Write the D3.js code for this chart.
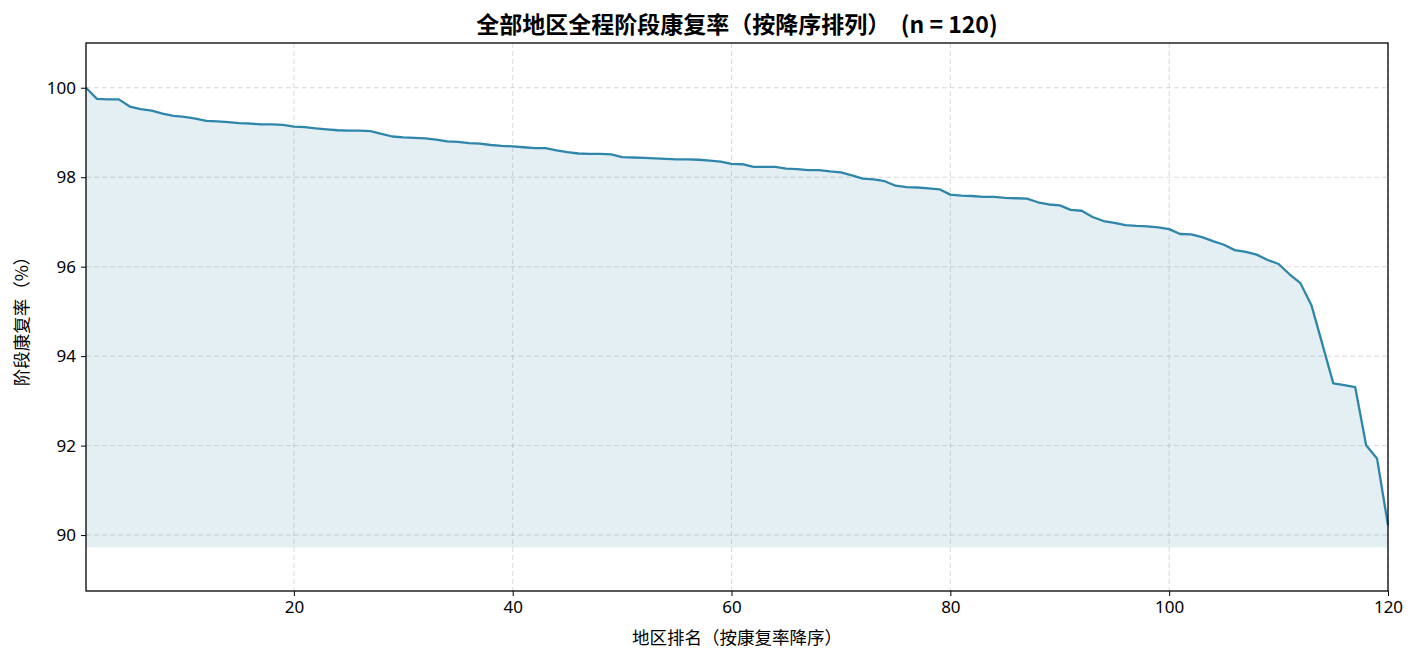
<!DOCTYPE html>
<html>
<head>
<meta charset="utf-8">
<script src="https://cdn.jsdelivr.net/npm/d3@7"></script>
<style>
  body { margin: 0; background: #fff; }
  #chart { width: 1417px; height: 663px; }
  text { font-family: "Noto Sans CJK SC", "Noto Sans", sans-serif; }
</style>
</head>
<body>
<div id="chart"></div>
<script>
////////////////////////////  Data  ////////////////////////////
const titleText = "全部地区全程阶段康复率（按降序排列）  (n = 120)";
const xLabel = "地区排名（按康复率降序）";
const yLabel = "阶段康复率（%）";

// recovery rate per region, sorted descending (rank 1..120)
const rates = [
  100.00, 99.75, 99.74, 99.74, 99.58, 99.52, 99.49, 99.42, 99.37, 99.35,
  99.31, 99.26, 99.25, 99.23, 99.21, 99.20, 99.18, 99.18, 99.17, 99.13,
  99.12, 99.09, 99.07, 99.05, 99.04, 99.04, 99.03, 98.97, 98.91, 98.89,
  98.88, 98.87, 98.84, 98.80, 98.79, 98.76, 98.75, 98.72, 98.70, 98.69,
  98.67, 98.65, 98.65, 98.60, 98.56, 98.53, 98.52, 98.52, 98.51, 98.45,
  98.44, 98.43, 98.42, 98.41, 98.40, 98.40, 98.39, 98.37, 98.35, 98.30,
  98.29, 98.23, 98.23, 98.23, 98.19, 98.18, 98.16, 98.16, 98.13, 98.11,
  98.04, 97.97, 97.95, 97.91, 97.81, 97.78, 97.77, 97.75, 97.73, 97.61,
  97.59, 97.58, 97.56, 97.56, 97.54, 97.53, 97.52, 97.44, 97.39, 97.37,
  97.27, 97.25, 97.11, 97.02, 96.98, 96.93, 96.91, 96.90, 96.88, 96.84,
  96.73, 96.72, 96.66, 96.57, 96.49, 96.37, 96.33, 96.27, 96.15, 96.06,
  95.83, 95.63, 95.14, 94.27, 93.39, 93.35, 93.31, 92.01, 91.71, 90.22
];
const xTicks = [20, 40, 60, 80, 100, 120];
const yTicks = [90, 92, 94, 96, 98, 100];

const data = rates.map((v, i) => ({ rank: i + 1, rate: v }));

////////////////////////////  Init  ////////////////////////////
const width = 1417;
const height = 663;
const margin = { top: 43, right: 29, bottom: 72, left: 86 };
const lineColor = "#2e86ab";

const svg = d3.select("#chart").append("svg")
  .attr("width", width)
  .attr("height", height);

const xScale = d3.scaleLinear()
  .domain([1, rates.length])
  .range([margin.left, width - margin.right]);

const yMin = d3.min(rates) - 0.5;
const yScale = d3.scaleLinear()
  .domain([88.75, 101.0])
  .range([height - margin.bottom, margin.top]);

// grid
svg.append("g")
  .selectAll("line")
  .data(yTicks)
  .join("line")
  .attr("x1", margin.left)
  .attr("x2", width - margin.right)
  .attr("y1", (d) => yScale(d))
  .attr("y2", (d) => yScale(d))
  .attr("stroke", "#b0b0b0")
  .attr("stroke-opacity", 0.5)
  .attr("stroke-dasharray", "5,3")
  .attr("stroke-width", 0.9);

svg.append("g")
  .selectAll("line")
  .data(xTicks)
  .join("line")
  .attr("x1", (d) => xScale(d))
  .attr("x2", (d) => xScale(d))
  .attr("y1", margin.top)
  .attr("y2", height - margin.bottom)
  .attr("stroke", "#b0b0b0")
  .attr("stroke-opacity", 0.5)
  .attr("stroke-dasharray", "5,3")
  .attr("stroke-width", 0.9);

// area + line
const area = d3.area()
  .x((d) => xScale(d.rank))
  .y0(yScale(yMin))
  .y1((d) => yScale(d.rate));

const line = d3.line()
  .x((d) => xScale(d.rank))
  .y((d) => yScale(d.rate));

svg.append("path")
  .datum(data)
  .attr("d", area)
  .attr("fill", lineColor)
  .attr("fill-opacity", 0.13);

svg.append("path")
  .datum(data)
  .attr("d", line)
  .attr("fill", "none")
  .attr("stroke", lineColor)
  .attr("stroke-width", 2.3)
  .attr("stroke-linejoin", "round");

// axes
const xAxis = d3.axisBottom(xScale).tickValues(xTicks).tickSize(5).tickPadding(5);
const yAxis = d3.axisLeft(yScale).tickValues(yTicks).tickSize(5).tickPadding(5);

const gx = svg.append("g")
  .attr("transform", "translate(0," + (height - margin.bottom) + ")")
  .call(xAxis);
const gy = svg.append("g")
  .attr("transform", "translate(" + margin.left + ",0)")
  .call(yAxis);

[gx, gy].forEach((g) => {
  g.select(".domain").remove();
  g.selectAll(".tick line").attr("stroke", "#000").attr("stroke-width", 1);
  g.selectAll(".tick text")
    .attr("fill", "#000")
    .style("font-size", "17px")
    .style("font-family", "'Noto Sans', 'Noto Sans CJK SC', sans-serif");
});

// frame
svg.append("rect")
  .attr("x", margin.left)
  .attr("y", margin.top)
  .attr("width", width - margin.left - margin.right)
  .attr("height", height - margin.top - margin.bottom)
  .attr("fill", "none")
  .attr("stroke", "#000")
  .attr("stroke-width", 1.3);

// labels
svg.append("text")
  .attr("x", (margin.left + width - margin.right) / 2)
  .attr("y", 33)
  .attr("text-anchor", "middle")
  .style("font-size", "23px")
  .style("font-weight", "bold")
  .style("white-space", "pre")
  .text(titleText);

svg.append("text")
  .attr("x", (margin.left + width - margin.right) / 2)
  .attr("y", 644)
  .attr("text-anchor", "middle")
  .style("font-size", "17.5px")
  .text(xLabel);

svg.append("text")
  .attr("transform", "translate(28," + ((margin.top + height - margin.bottom) / 2) + ") rotate(-90)")
  .attr("text-anchor", "middle")
  .style("font-size", "17.5px")
  .text(yLabel);
</script>
</body>
</html>
